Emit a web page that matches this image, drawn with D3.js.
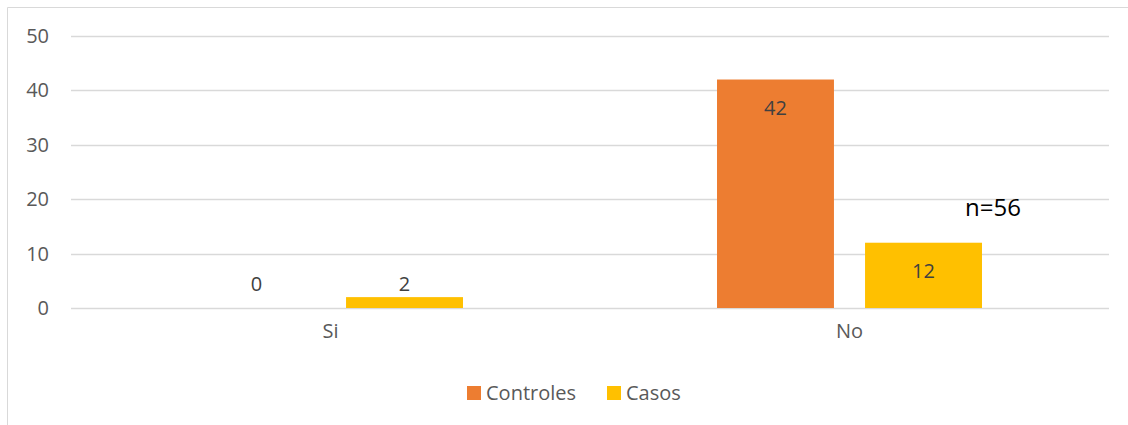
<!DOCTYPE html>
<html>
<head>
<meta charset="utf-8">
<script src="https://cdn.jsdelivr.net/npm/d3@7"></script>
<style>
  body { margin: 0; background: #fff; }
  svg { font-family: "Open Sans", sans-serif; }
</style>
</head>
<body>
<svg width="1128" height="425"></svg>
<script>
const categories = ["Si", "No"];
const series = ["Controles", "Casos"];
const controles = [0, 42];
const casos = [2, 12];
const yTicks = [0, 10, 20, 30, 40, 50];
const note = "n=56";

const colors = {Controles: "#ED7D31", Casos: "#FFC000"};
const font = "'Open Sans', sans-serif";

const svg = d3.select("svg");

// outer chart frame (only left + top visible in the picture)
svg.append("path")
   .attr("d", "M7.5,425 V7.5 H1128")
   .attr("fill", "none")
   .attr("stroke", "#d9d9d9");

const x0 = d3.scaleBand().domain(categories).range([71, 1109]);
const x1 = d3.scaleBand().domain(series).range([0, x0.bandwidth()])
             .paddingInner(0.21).paddingOuter(0.858);
const y = d3.scaleLinear().domain([0, 50]).range([308, 36]);

const rows = categories.map((c, i) => ({cat: c, Controles: controles[i], Casos: casos[i]}));

// gridlines
svg.append("g")
   .selectAll("line")
   .data(yTicks)
   .join("line")
     .attr("x1", 71).attr("x2", 1109)
     .attr("y1", d => Math.round(y(d)) + 0.5)
     .attr("y2", d => Math.round(y(d)) + 0.5)
     .attr("stroke", "#d9d9d9")
     .attr("stroke-width", 1.5);

// y axis labels
const yAxis = svg.append("g")
   .attr("transform", "translate(49,0)")
   .call(d3.axisLeft(y).tickValues(yTicks).tickSize(0).tickPadding(0));
yAxis.select(".domain").remove();
yAxis.attr("font-size", 20).attr("font-family", font);
yAxis.selectAll("text").attr("fill", "#595959");

// x axis labels
const xAxis = svg.append("g")
   .attr("transform", "translate(0,324)")
   .call(d3.axisBottom(x0).tickSize(0).tickPadding(0));
xAxis.select(".domain").remove();
xAxis.attr("font-size", 20).attr("font-family", font);
xAxis.selectAll("text").attr("fill", "#595959");

// bars
const groups = svg.append("g")
   .selectAll("g")
   .data(rows)
   .join("g")
     .attr("transform", d => `translate(${x0(d.cat)},0)`);

const cells = groups.selectAll("g")
   .data(d => series.map(s => ({s, v: d[s]})))
   .join("g");

cells.append("rect")
     .attr("x", d => x1(d.s))
     .attr("y", d => y(d.v))
     .attr("width", x1.bandwidth())
     .attr("height", d => y(0) - y(d.v))
     .attr("fill", d => colors[d.s]);

// value labels: inside end when bar is tall enough, otherwise above it
cells.append("text")
     .attr("x", d => x1(d.s) + x1.bandwidth() / 2)
     .attr("y", d => (y(0) - y(d.v)) > 30 ? y(d.v) + 35 : Math.min(y(d.v) - 6, y(0) - 17))
     .attr("text-anchor", "middle")
     .attr("font-size", 20)
     .attr("fill", "#404040")
     .text(d => d.v);

// sample size note
svg.append("text")
   .attr("x", 965).attr("y", 216)
   .attr("font-size", 24)
   .attr("fill", "#000")
   .text(note);

// legend
const legend = svg.append("g").attr("transform", "translate(467,386)");
const legendX = [0, 140];
series.forEach((s, i) => {
  const g = legend.append("g").attr("transform", `translate(${legendX[i]},0)`);
  g.append("rect").attr("width", 14).attr("height", 14).attr("fill", colors[s]);
  g.append("text").attr("x", 19).attr("y", 13.5)
   .attr("font-size", 20).attr("fill", "#595959").text(s);
});
</script>
</body>
</html>
